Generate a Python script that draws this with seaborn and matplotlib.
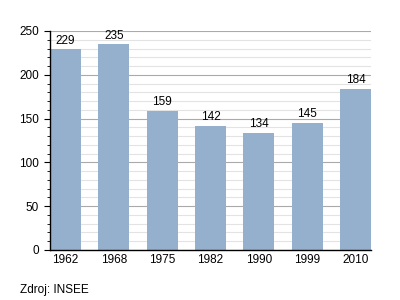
import matplotlib
matplotlib.use("Agg")
import matplotlib.pyplot as plt
import seaborn as sns
import pandas as pd
from matplotlib.ticker import MultipleLocator

years = ["1962", "1968", "1975", "1982", "1990", "1999", "2010"]
population = [229, 235, 159, 142, 134, 145, 184]

sns.set_style("white")
plt.rcParams['font.family'] = ['Liberation Sans', 'DejaVu Sans']
plt.rcParams['text.color'] = 'black'
plt.rcParams['xtick.color'] = 'black'
plt.rcParams['ytick.color'] = 'black'

df = pd.DataFrame({"year": years, "pop": population})

fig = plt.figure(figsize=(4, 3), dpi=100)
ax = fig.add_axes([0.125, 0.1667, 0.8025, 0.73])
sns.barplot(data=df, x="year", y="pop", color="#94B0CC", saturation=1, width=0.64,
            ax=ax, zorder=3, linewidth=0, edgecolor="none")

ax.set_ylim(0, 250)
ax.set_xlim(-0.32, 6.32)
ax.yaxis.set_major_locator(MultipleLocator(50))
ax.yaxis.set_minor_locator(MultipleLocator(10))
ax.grid(True, which="major", axis="y", color="#aaaaaa", linewidth=0.8, zorder=0)
ax.grid(True, which="minor", axis="y", color="#e3e3e3", linewidth=0.8, zorder=0)
ax.set_axisbelow(True)
for s in ["top", "right"]:
    ax.spines[s].set_visible(False)
ax.spines["left"].set_color("black")
ax.spines["bottom"].set_color("black")
ax.spines["left"].set_linewidth(1)
ax.spines["bottom"].set_linewidth(1)
ax.spines["left"].set_zorder(6)
ax.spines["bottom"].set_zorder(6)
ax.tick_params(axis="y", which="major", length=4, width=0.8, direction="out", labelsize=8.5,
               left=True, colors="black", pad=4)
ax.tick_params(axis="y", which="minor", length=2, width=0.6, direction="out", left=True, colors="black")
ax.tick_params(axis="x", length=0, labelsize=8.5, pad=3, colors="black")
ax.set_xlabel("")
ax.set_ylabel("")

for i, v in enumerate(population):
    ax.text(i, v + 3, str(v), ha="center", va="bottom", fontsize=8.5, color="black", zorder=5)

fig.text(0.05, 0.035, "Zdroj: INSEE", fontsize=8.5, ha="left", va="center", color="black")

fig.savefig("out.png", dpi=100)
